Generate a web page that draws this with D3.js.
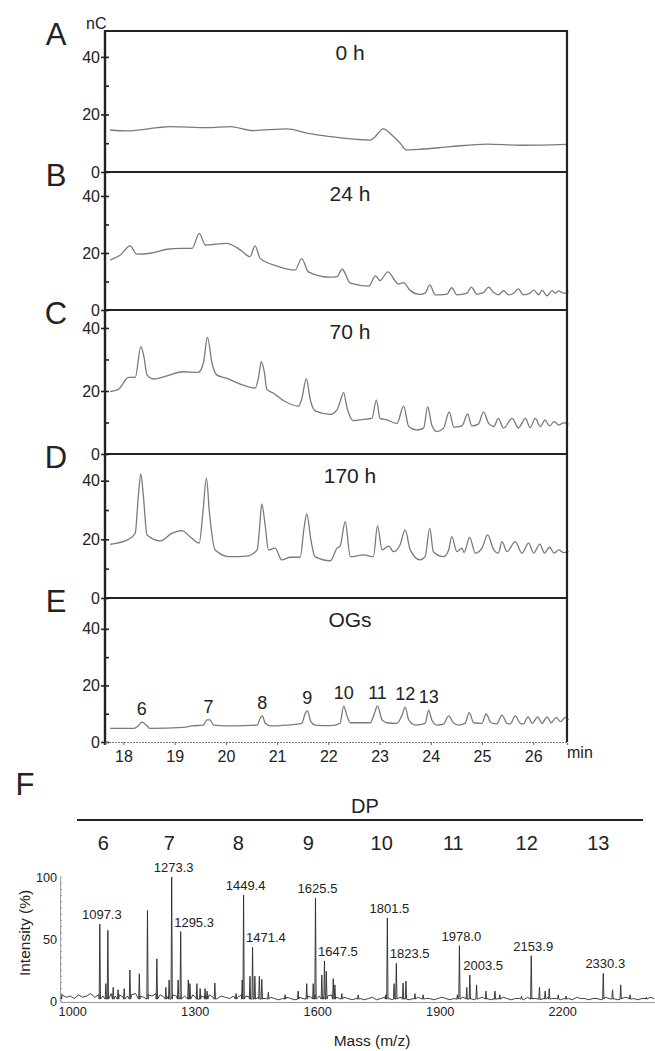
<!DOCTYPE html>
<html lang="en">
  <head>
    <meta charset="UTF-8">
    <title>Chromatograms and MS</title>
    <style>
body{
    margin: 0;
    background: #fff;
}
svg{
    display: block;
    font-family: "Liberation Sans", Arial, Helvetica, sans-serif;
}
    </style>
  </head>
  <body>
    <script src="https://cdn.jsdelivr.net/npm/d3@7/dist/d3.min.js"></script>
    <script>
// ---- data ----
var panelLetters = ["A", "B", "C", "D", "E"];
var panelTitles = ["0 h", "24 h", "70 h", "170 h", "OGs"];
var nCTicks = [0, 10, 20, 30, 40];
var timeTicks = [18, 19, 20, 21, 22, 23, 24, 25, 26];

// [time (min), signal (nC)]
var trace0h = [[17.74,14.6],[18.07,14.3],[18.66,15.4],[18.91,15.8],[19.64,15.4],[20.08,15.8],[20.53,14.4],[21.19,15.0],[21.58,13.5],[22.03,12.3],[22.82,11.1],[22.91,12.2],[23.07,15.0],[23.24,12.9],[23.40,10.1],[23.52,7.7],[23.80,7.9],[24.38,8.8],[25.10,9.7],[25.75,9.3],[26.65,9.6]];
var trace24h = [[17.74,17.5],[17.94,19.3],[18.13,22.5],[18.26,19.6],[18.52,19.9],[18.85,21.3],[19.11,21.6],[19.34,21.6],[19.48,26.9],[19.60,22.8],[20.02,23.4],[20.28,21.1],[20.47,18.7],[20.57,22.5],[20.67,18.1],[21.00,15.4],[21.35,14.0],[21.48,18.0],[21.61,13.4],[22.04,11.5],[22.17,11.7],[22.27,14.3],[22.43,9.4],[22.79,8.4],[22.92,12.0],[23.01,10.3],[23.16,13.4],[23.37,9.1],[23.47,9.6],[23.60,6.8],[23.79,5.5],[23.89,5.9],[23.98,8.8],[24.09,5.3],[24.32,5.6],[24.41,7.8],[24.51,5.3],[24.71,5.9],[24.79,8.0],[24.90,5.6],[25.03,6.1],[25.13,8.0],[25.23,6.1],[25.32,5.3],[25.42,6.8],[25.52,5.3],[25.62,5.9],[25.71,7.4],[25.81,5.3],[25.94,5.9],[26.01,7.0],[26.11,5.3],[26.17,7.0],[26.27,5.0],[26.37,6.8],[26.43,5.9],[26.50,6.7],[26.59,5.9],[26.69,6.2]];
var trace70h = [[17.74,19.8],[17.90,20.5],[18.10,24.3],[18.23,24.3],[18.34,34.1],[18.40,30.9],[18.46,25.1],[18.59,23.8],[18.85,24.8],[19.17,26.1],[19.46,25.9],[19.56,28.8],[19.64,37.0],[19.73,28.8],[19.82,25.1],[20.02,24.0],[20.28,22.2],[20.57,20.9],[20.64,24.5],[20.69,29.3],[20.75,26.1],[20.80,20.5],[20.93,19.3],[21.13,16.9],[21.42,15.2],[21.48,17.4],[21.57,23.8],[21.65,17.1],[21.74,13.7],[22.04,12.6],[22.17,14.0],[22.23,16.6],[22.30,19.5],[22.36,15.0],[22.49,10.6],[22.69,11.0],[22.85,11.3],[22.94,17.1],[23.01,11.3],[23.14,10.8],[23.34,9.7],[23.47,15.2],[23.57,8.7],[23.73,7.6],[23.86,8.2],[23.94,15.0],[24.02,9.2],[24.12,7.1],[24.25,8.2],[24.36,13.4],[24.45,8.5],[24.61,8.9],[24.72,12.7],[24.80,8.9],[24.93,9.5],[25.03,13.4],[25.13,9.7],[25.23,8.7],[25.32,11.3],[25.42,8.2],[25.59,11.3],[25.71,8.3],[25.85,11.3],[25.94,8.3],[26.04,11.3],[26.14,8.7],[26.23,10.8],[26.32,8.9],[26.41,10.3],[26.50,9.2],[26.59,9.9],[26.69,9.5]];
var trace170h = [[17.74,18.3],[18.10,20.0],[18.23,22.1],[18.29,34.6],[18.34,42.3],[18.39,34.6],[18.46,21.5],[18.72,19.5],[18.95,22.1],[19.14,23.0],[19.30,20.9],[19.48,18.7],[19.55,28.9],[19.62,40.9],[19.68,28.9],[19.79,16.4],[20.08,14.1],[20.41,14.3],[20.61,16.4],[20.66,24.3],[20.70,32.1],[20.77,24.3],[20.83,16.4],[20.96,17.0],[21.09,13.0],[21.26,13.9],[21.45,13.9],[21.53,24.3],[21.58,28.7],[21.66,19.8],[21.74,14.1],[22.04,12.7],[22.17,17.0],[22.23,17.7],[22.33,26.0],[22.43,14.1],[22.69,14.7],[22.88,14.1],[22.96,24.6],[23.05,16.4],[23.18,17.7],[23.27,15.8],[23.40,18.1],[23.50,23.2],[23.60,16.4],[23.79,13.0],[23.89,14.1],[23.98,23.8],[24.05,15.8],[24.25,14.1],[24.35,16.4],[24.41,20.9],[24.51,15.8],[24.61,17.0],[24.65,15.5],[24.76,20.7],[24.87,15.3],[25.00,17.0],[25.11,21.5],[25.23,16.4],[25.32,15.3],[25.39,19.2],[25.49,15.8],[25.65,19.2],[25.78,15.3],[25.91,18.7],[26.01,15.3],[26.13,18.4],[26.22,15.3],[26.32,17.3],[26.41,15.3],[26.50,16.4],[26.59,15.5],[26.69,15.8]];
var traceOGs = [[17.74,4.8],[18.20,4.8],[18.29,5.7],[18.36,7.0],[18.46,5.7],[18.52,4.8],[19.17,5.2],[19.34,5.7],[19.56,6.0],[19.63,7.8],[19.69,7.8],[19.76,6.0],[20.15,5.7],[20.61,6.0],[20.67,8.4],[20.71,9.2],[20.77,6.6],[20.87,5.7],[21.19,6.0],[21.48,6.6],[21.55,10.1],[21.59,11.1],[21.66,7.2],[21.74,6.0],[22.04,5.8],[22.23,6.6],[22.30,12.7],[22.36,9.5],[22.43,6.8],[22.82,6.8],[22.90,10.1],[22.96,12.8],[23.05,7.8],[23.14,6.8],[23.34,6.6],[23.44,9.5],[23.50,12.3],[23.57,7.8],[23.70,6.0],[23.89,6.6],[23.96,11.3],[24.02,7.8],[24.12,6.0],[24.25,6.3],[24.35,9.2],[24.45,6.6],[24.54,6.0],[24.67,6.6],[24.75,10.4],[24.84,6.8],[25.00,6.6],[25.08,9.9],[25.18,6.8],[25.29,6.4],[25.39,9.5],[25.49,6.6],[25.55,6.4],[25.65,9.2],[25.75,6.6],[25.81,6.4],[25.90,8.9],[25.98,6.6],[26.09,8.9],[26.17,6.6],[26.27,8.9],[26.35,6.8],[26.45,8.7],[26.53,7.2],[26.63,8.7],[26.69,7.8]];
var traces = [trace0h, trace24h, trace70h, trace170h, traceOGs];

// DP peaks marked on the OGs trace
var ogDP = ["6", "7", "8", "9", "10", "11", "12", "13"];
var ogDPTime = [18.36, 19.66, 20.71, 21.59, 22.30, 22.96, 23.50, 23.96];
var ogDPHeight = [7.0, 7.8, 9.2, 11.1, 12.7, 12.8, 12.3, 11.3];

// MALDI spectrum
var dpNumbers = ["6", "7", "8", "9", "10", "11", "12", "13"];
var dpLabelMass = [1105.8, 1267.4, 1436.4, 1607.9, 1787.6, 1963.0, 2142.8, 2318.1];
var msMainMass = [1097.3, 1273.3, 1449.4, 1625.5, 1801.5, 1978.0, 2153.9, 2330.3];
var msMainInt = [62, 100, 85.5, 83, 67, 44.6, 36.5, 22.3];
var msSubMass = [1295.3, 1471.4, 1647.5, 1823.5, 2003.5];
var msSubInt = [56, 43.3, 32.3, 30.4, 21];
var msOtherMass = [1002,1112,1117,1130,1142,1157,1171,1194,1214,1237,1259,1267,1289,1314,1318,1335,1343,1355,1360,1379,1431,1446,1465,1477,1488,1494,1510,1551,1583,1604,1620,1641,1652,1669,1673,1690,1730,1798,1818,1840,1847,1869,1889,1973,1996,2020,2043,2065,2077,2130,2174,2188,2198,2220,2239,2353,2373,2396,2436];
var msOtherInt = [6,14,57,11,9,10,25,22,73,34,11,17,17,17,14,14,10,10,8,14.5,6,17,20,20,20,17.5,7,5,8,14,14,21,24,18,13,6,5,5,14,14.5,16,6,5,5,11,13,8,8,5,4,11,8,10,5,4,9,13,5,3];
// baseline noise, one reading every 10 m/z from 1005
var msNoiseStart = 1005, msNoiseStep = 10;
var msNoise = [5,3,4,2,5,3,4,6,3,5,4,3,6,4,5,3,4,5,6,4,3,5,4,6,5,3,4,5,4,3,
               4,3,5,2,4,3,5,3,2,4,3,2,4,3,5,4,3,2,3,2,
               2,3,2,1,2,3,2,1,3,2,4,3,5,4,3,4,5,3,2,3,
               2,1,2,2,1,2,3,1,2,3,2,1,2,3,2,1,2,3,2,2,
               2,1,2,3,2,1,2,2,3,2,2,1,2,3,2,1,2,2,3,2,
               1,2,2,1,3,2,2,1,2,3,2,2,1,2,2,1,3,2,2,1,
               2,2,1,3,2,2,1,2,3,2,2,1,2,2,3,2];
var massTicks = [1000, 1300, 1600, 1900, 2200];
var intTicks = [0, 50, 100];

// ---- layout ----
var width = 655, height = 1051;
var chromLeft = 105, chromRight = 567;
var panelEdges = [31, 172, 310, 454, 598, 742];
var panelYMax = [49, 48.4, 45.7, 49.1, 50.9];
var msLeft = 60.1, msRight = 655, msTop = 877, msBottom = 1001;

var svg = d3.select("body").append("svg")
    .attr("width", width)
    .attr("height", height);

var x = d3.scaleLinear().domain([17.64, 26.66]).range([chromLeft, chromRight]);

var line = d3.line()
    .x(function(d){ return x(d[0]); })
    .curve(d3.curveMonotoneX);

traces.forEach(function(tr, i){
    var top = panelEdges[i], bottom = panelEdges[i + 1];
    var y = d3.scaleLinear().domain([0, panelYMax[i]]).range([bottom, top]);
    var g = svg.append("g");

    line.y(function(d){ return y(d[1]); });
    g.append("path")
        .attr("d", line(tr))
        .attr("fill", "none")
        .attr("stroke", "#7a7a7a")
        .attr("stroke-width", 1.3);

    var ax = g.append("g")
        .attr("transform", "translate(" + chromLeft + ",0)")
        .call(d3.axisLeft(y).tickValues(nCTicks).tickSizeInner(-4).tickSizeOuter(0).tickPadding(5)
            .tickFormat(function(d){ return d % 20 === 0 ? d : ""; }));
    ax.select(".domain").remove();
    ax.selectAll(".tick line")
        .attr("stroke", "#222")
        .attr("stroke-width", 1.6)
        .attr("x1", function(d){ return d % 20 === 0 ? -4 : 0; });
    ax.selectAll(".tick text")
        .attr("font-family", null)
        .attr("font-size", 16)
        .attr("fill", "#222");

    // panel top rule
    g.append("line")
        .attr("x1", chromLeft).attr("x2", chromRight)
        .attr("y1", top).attr("y2", top)
        .attr("stroke", "#222").attr("stroke-width", 2.2);

    g.append("text")
        .attr("x", 56).attr("y", top + 14)
        .attr("text-anchor", "middle")
        .attr("font-size", 31)
        .attr("fill", "#222")
        .text(panelLetters[i]);

    g.append("text")
        .attr("x", 350).attr("y", top + 29)
        .attr("text-anchor", "middle")
        .attr("font-size", 21)
        .attr("fill", "#222")
        .text(panelTitles[i]);

    if(i === traces.length - 1){
        g.selectAll("text.dp")
            .data(ogDP)
            .enter().append("text")
            .attr("class", "dp")
            .attr("x", function(d, k){ return x(ogDPTime[k]); })
            .attr("y", function(d, k){ return y(ogDPHeight[k]) - 7; })
            .attr("text-anchor", "middle")
            .attr("font-size", 18)
            .attr("fill", "#222")
            .text(function(d){ return d; });
    }
});

// frame: left axis and right side
svg.append("line")
    .attr("x1", chromLeft).attr("x2", chromLeft)
    .attr("y1", panelEdges[0] - 1).attr("y2", panelEdges[5] + 3)
    .attr("stroke", "#222").attr("stroke-width", 2.4);
svg.append("line")
    .attr("x1", chromRight).attr("x2", chromRight)
    .attr("y1", panelEdges[0] - 1).attr("y2", panelEdges[5])
    .attr("stroke", "#222").attr("stroke-width", 2.2);

svg.append("text")
    .attr("x", 86).attr("y", 29)
    .attr("font-size", 16)
    .attr("fill", "#222")
    .text("nC");

// time axis
var xAx = svg.append("g")
    .attr("transform", "translate(0," + panelEdges[5] + ")")
    .call(d3.axisBottom(x).tickValues(timeTicks).tickSize(3).tickPadding(6));
xAx.select(".domain")
    .attr("stroke", "#777")
    .attr("stroke-width", 1.2)
    .attr("stroke-dasharray", "2,1");
xAx.selectAll(".tick line").attr("stroke", "#666");
xAx.selectAll(".tick text")
    .attr("font-family", null)
    .attr("font-size", 16)
    .attr("fill", "#222");

svg.append("text")
    .attr("x", chromRight).attr("y", 758)
    .attr("font-size", 16)
    .attr("fill", "#222")
    .text("min");

// ---- F: mass spectrum ----
var mx = d3.scaleLinear().domain([1000, 2457]).range([msLeft, msRight]);
var my = d3.scaleLinear().domain([0, 100]).range([msBottom, msTop]);

svg.append("text")
    .attr("x", 25).attr("y", 795)
    .attr("text-anchor", "middle")
    .attr("font-size", 31)
    .attr("fill", "#222")
    .text("F");

svg.append("line")
    .attr("x1", 77).attr("x2", 643)
    .attr("y1", 820).attr("y2", 820)
    .attr("stroke", "#222").attr("stroke-width", 2);
svg.append("text")
    .attr("x", 365).attr("y", 813)
    .attr("text-anchor", "middle")
    .attr("font-size", 20)
    .attr("fill", "#222")
    .text("DP");
svg.selectAll("text.dpnum")
    .data(dpNumbers)
    .enter().append("text")
    .attr("class", "dpnum")
    .attr("x", function(d, i){ return mx(dpLabelMass[i]); })
    .attr("y", 850)
    .attr("text-anchor", "middle")
    .attr("font-size", 20)
    .attr("fill", "#222")
    .text(function(d){ return d; });

// gather every reading of the spectrum, sorted by mass; noise is joined
// point to point, peaks rise from and fall back to the baseline
var msPts = [];
msNoise.forEach(function(v, i){ msPts.push([msNoiseStart + i * msNoiseStep, v, false]); });
msOtherMass.forEach(function(m, i){ msPts.push([m, msOtherInt[i], true]); });
msMainMass.forEach(function(m, i){ msPts.push([m, msMainInt[i], true]); });
msSubMass.forEach(function(m, i){ msPts.push([m, msSubInt[i], true]); });
msPts.sort(function(a, b){ return a[0] - b[0]; });

var spec = [];
msPts.forEach(function(p){
    if(p[2]){
        spec.push([p[0] - 1.6, 1.5]);
        spec.push([p[0], p[1]]);
        spec.push([p[0] + 1.6, 1.5]);
    }else{
        spec.push([p[0], p[1]]);
    }
});

svg.append("path")
    .attr("d", d3.line().x(function(d){ return mx(d[0]); }).y(function(d){ return my(d[1]); })(spec))
    .attr("fill", "none")
    .attr("stroke", "#2a2a2a")
    .attr("stroke-width", 0.9);

var mxAx = svg.append("g")
    .attr("transform", "translate(0," + (msBottom + 1) + ")")
    .call(d3.axisBottom(mx).tickValues(massTicks).tickSize(0).tickPadding(5).tickFormat(d3.format("d")));
mxAx.select(".domain").attr("stroke", "#999").attr("stroke-width", 1);
mxAx.selectAll(".tick text")
    .attr("font-family", null)
    .attr("font-size", 12.7)
    .attr("fill", "#222")
    .attr("text-anchor", "start")
    .attr("dx", -2);

var myAx = svg.append("g")
    .attr("transform", "translate(" + msLeft + ",0)")
    .call(d3.axisLeft(my).tickValues(intTicks).tickSize(0).tickPadding(3));
myAx.select(".domain").attr("stroke", "#999").attr("stroke-width", 1);
myAx.selectAll(".tick text")
    .attr("font-family", null)
    .attr("font-size", 12.7)
    .attr("fill", "#222");
myAx.selectAll(".minor")
    .data(d3.range(0, 101, 5))
    .enter().append("line")
    .attr("x1", 0).attr("x2", 2)
    .attr("y1", function(d){ return my(d); }).attr("y2", function(d){ return my(d); })
    .attr("stroke", "#999");

svg.selectAll("text.mainlab")
    .data(msMainMass)
    .enter().append("text")
    .attr("class", "mainlab")
    .attr("x", function(d){ return mx(d) + 2; })
    .attr("y", function(d, i){ return my(msMainInt[i]) - 5; })
    .attr("text-anchor", "middle")
    .attr("font-size", 13)
    .attr("fill", "#222")
    .text(function(d){ return d.toFixed(1); });

svg.selectAll("text.sublab")
    .data(msSubMass)
    .enter().append("text")
    .attr("class", "sublab")
    .attr("x", function(d){ return mx(d) - 6.5; })
    .attr("y", function(d, i){ return my(msSubInt[i]) - 5; })
    .attr("font-size", 13)
    .attr("fill", "#222")
    .text(function(d){ return d.toFixed(1); });

svg.append("text")
    .attr("transform", "translate(30,933) rotate(-90)")
    .attr("text-anchor", "middle")
    .attr("font-size", 15.5)
    .attr("fill", "#222")
    .text("Intensity (%)");

svg.append("text")
    .attr("x", 372).attr("y", 1046)
    .attr("text-anchor", "middle")
    .attr("font-size", 15.5)
    .attr("fill", "#222")
    .text("Mass (m/z)");
    </script>
  </body>
</html>
